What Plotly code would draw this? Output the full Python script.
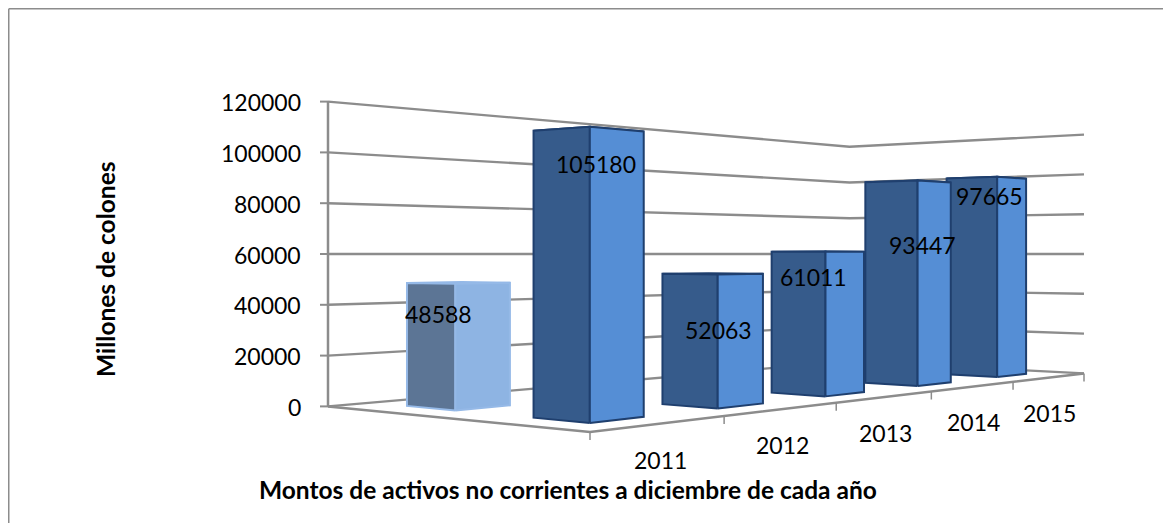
import plotly.graph_objects as go

# data
years = ['2011', '2012', '2013', '2014', '2015']
serie_frontal = [105180, 52063, 61011, 93447, 97665]
serie_fondo = [48588, None, None, None, None]
y_ticks = [0, 20000, 40000, 60000, 80000, 100000, 120000]
y_title = 'Millones de colones'
x_title = 'Montos de activos no corrientes a diciembre de cada año'

FONT = 'Lato'
GRID = '#8c8c8c'
TXT = '#000000'
DARK = dict(side='#365b8b', front='#558ed5', top='#4a7ebb', line='#1f3f6e')
LIGHT = dict(side='#5c7595', front='#8eb4e3', top='#a5c4ea', line='#95b9e7')

# perspective of the floor: u runs along the categories, v along the depth
H_Y = 254          # horizon, every wall line crosses it at H_VAL
H_VAL = 60000
X_D, X_C, X_A = 590, 1084, 328
D_D, D_C, D_A = 1 / 59.33, 1 / 39.8, 1 / 50.8   # depth per 20000 units


def project(u, v, val):
    d = D_D + u * (D_C - D_D) + v * (D_A - D_D)
    n = X_D * D_D + u * (X_C * D_C - X_D * D_D) + v * (X_A * D_A - X_D * D_D)
    return n / d, H_Y - (val - H_VAL) / d / 20000


def poly(points, fill, line, width=2):
    xs, ys = zip(*[project(*p) for p in points])
    fig.add_trace(go.Scatter(x=list(xs) + [xs[0]], y=list(ys) + [ys[0]], mode='lines',
                             fill='toself', fillcolor=fill,
                             line=dict(color=line, width=width),
                             hoverinfo='skip', showlegend=False))


def path(points, width=2.4, color=GRID):
    xs, ys = zip(*[project(*p) for p in points])
    fig.add_trace(go.Scatter(x=xs, y=ys, mode='lines', line=dict(color=color, width=width),
                             hoverinfo='skip', showlegend=False))


def bar(u_c, v_c, val, c):
    u0, u1 = u_c - 0.04, u_c + 0.04
    v0, v1 = v_c - 0.1, v_c + 0.1
    poly([(u0, v0, val), (u1, v0, val), (u1, v1, val), (u0, v1, val)], c['top'], c['line'])
    poly([(u0, v0, 0), (u0, v1, 0), (u0, v1, val), (u0, v0, val)], c['side'], c['line'])
    poly([(u0, v0, 0), (u1, v0, 0), (u1, v0, val), (u0, v0, val)], c['front'], c['line'])


def label(x, y, text, size=23, bold=False, **kw):
    fig.add_annotation(x=x, y=y, text=f'<b>{text}</b>' if bold else text, showarrow=False,
                       font=dict(family=FONT, size=size, color=TXT), **kw)


fig = go.Figure()

# walls and floor
for t in y_ticks:
    path([(0, 1, t), (1, 1, t), (1, 0, t)])
    x, y = project(0, 1, t)
    fig.add_shape(type='line', x0=x - 8, x1=x, y0=y, y1=y, line=dict(color=GRID, width=2))
    label(x - 25, y + 0.5, str(t), xanchor='right')
path([(0, 1, 0), (0, 1, y_ticks[-1])], width=2.5)
path([(0, 1, 0), (0, 0, 0), (1, 0, 0)], width=2.5)

# category ticks and labels
n = len(years)
for i in range(n + 1):
    x, y = project(i / n, 0, 0)
    fig.add_shape(type='line', x0=x, x1=x, y0=y, y1=y + 8, line=dict(color=GRID, width=1.5))
for i, yr in enumerate(years):
    x, y = project((i + 0.5) / n, 0, 0)
    label(x, y + 36, yr)

# back row first, then the front row from right to left
for i in reversed(range(n)):
    if serie_fondo[i] is not None:
        bar((i + 0.5) / n, 0.745, serie_fondo[i], LIGHT)
for i in reversed(range(n)):
    bar((i + 0.5) / n, 0.245, serie_frontal[i], DARK)

# data labels, placed by hand as in the picture
label(438, 314, serie_fondo[0])
for val, lx, ly in zip(serie_frontal, [596, 718, 813, 922, 989], [164, 330, 277, 245, 196]):
    label(lx, ly, val)

label(568, 489, x_title, size=24.5, bold=True)
label(105, 269, y_title, size=24.5, bold=True, textangle=-90)

# outer frame: only the top and left edges are visible
fig.add_shape(type='line', x0=8.75, x1=1171, y0=8.75, y1=8.75, line=dict(color=GRID, width=1.5))
fig.add_shape(type='line', x0=8.75, x1=8.75, y0=8.75, y1=523, line=dict(color=GRID, width=1.5))

# the page body sits 8px in, so the axes start at 8 to keep picture coordinates
fig.update_layout(
    width=1163, height=515, margin=dict(l=0, r=0, t=0, b=0),
    paper_bgcolor='white', plot_bgcolor='white', showlegend=False,
    xaxis=dict(visible=False, range=[8, 1171], fixedrange=True),
    yaxis=dict(visible=False, range=[523, 8], fixedrange=True),
)
fig.write_html("out.html", config={'displayModeBar': False})
